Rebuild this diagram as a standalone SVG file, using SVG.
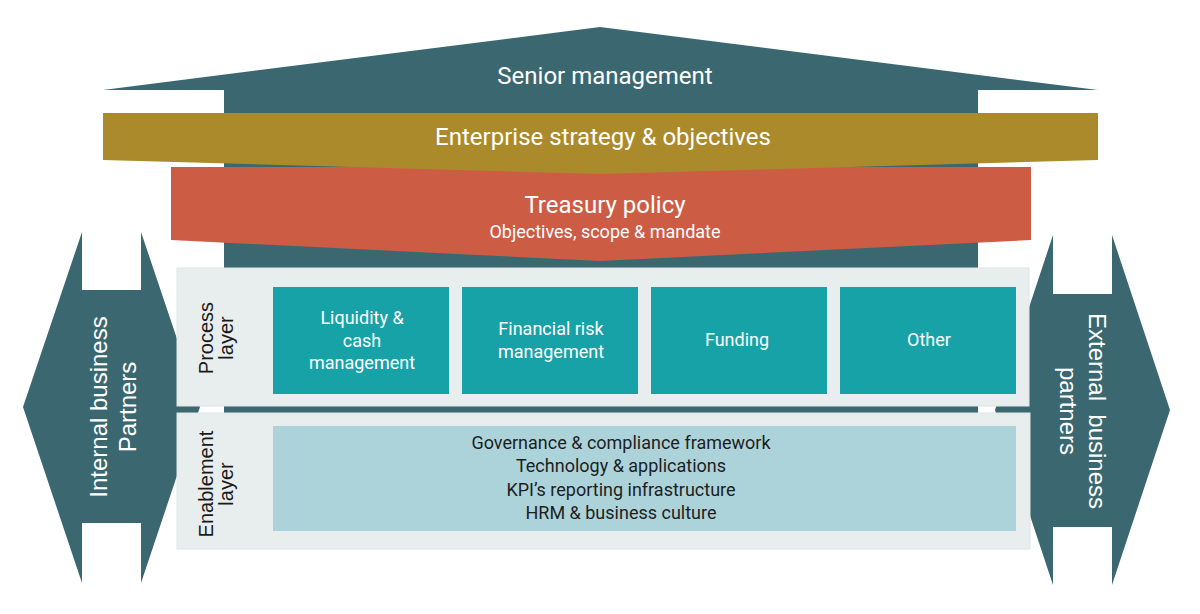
<svg xmlns="http://www.w3.org/2000/svg" width="1200" height="614" viewBox="0 0 1200 614">
<style>
.dark{fill:#3b6870}
.layer{fill:#e8eded;stroke:#dfe5e5;stroke-width:1}
.proc{fill:#17a2a8}
.en{fill:#acd3da}
.w{font-family:Roboto,"Liberation Sans",sans-serif;fill:#ffffff;text-anchor:middle}
.big{font-size:24px}
.pt{font-size:18px}
.et{font-family:Roboto,"Liberation Sans",sans-serif;fill:#1e1e1e;font-size:18px;text-anchor:middle}
.side{font-family:"Liberation Sans",Arial,sans-serif;fill:#ffffff;font-size:24px;text-anchor:middle}
.lab{font-family:"Liberation Sans",Arial,sans-serif;fill:#1a1a1a;font-size:20px;text-anchor:middle}
</style>
<rect width="1200" height="614" fill="#ffffff"/>
<g id="internal-partners">
<polygon class="dark" points="82,232 82,290 141,290 141,232 200,407 141,583 141,523 82,523 82,583 23,407"/>
<text class="side" transform="translate(107,407) rotate(-90)">Internal business</text>
<text class="side" transform="translate(136,407) rotate(-90)">Partners</text>
</g>
<g id="external-partners">
<polygon class="dark" points="1053,235 1053,294 1112,294 1112,235 1170,410 1112,585 1112,527 1053,527 1053,585 995,410"/>
<text class="side" transform="translate(1089,411) rotate(90)" xml:space="preserve">External  business</text>
<text class="side" transform="translate(1060,411) rotate(90)">partners</text>
</g>
<g id="senior-management">
<polygon class="dark" points="103,90 600,27 1098,90 978,90 978,413 224,413 224,90"/>
<text class="w big" x="605" y="84">Senior management</text>
</g>
<g id="treasury-policy">
<polygon fill="#cd5c45" points="171,167 1031,167 1031,240 600,261 171,240"/>
<text class="w big" x="605" y="213">Treasury policy</text>
<text class="w" x="605" y="238" font-size="18">Objectives, scope &amp; mandate</text>
</g>
<g id="enterprise-strategy">
<polygon fill="#ab8a2b" points="103,113 1098,113 1098,160 600,174 103,160"/>
<text class="w big" x="603" y="145">Enterprise strategy &amp; objectives</text>
</g>
<g id="process-layer">
<rect class="layer" x="177" y="268" width="852" height="138"/>
<text class="lab" transform="translate(213,338) rotate(-90)">Process</text>
<text class="lab" transform="translate(233,338) rotate(-90)">layer</text>
</g>
<g id="liquidity">
<rect class="proc" x="273" y="287" width="176" height="107"/>
<text class="w pt" x="362" y="324">Liquidity &amp;</text>
<text class="w pt" x="362" y="347">cash</text>
<text class="w pt" x="362" y="369">management</text>
</g>
<g id="financial-risk">
<rect class="proc" x="462" y="287" width="176" height="107"/>
<text class="w pt" x="551" y="335">Financial risk</text>
<text class="w pt" x="551" y="358">management</text>
</g>
<g id="funding">
<rect class="proc" x="651" y="287" width="176" height="107"/>
<text class="w pt" x="737" y="346">Funding</text>
</g>
<g id="other">
<rect class="proc" x="840" y="287" width="176" height="107"/>
<text class="w pt" x="929" y="346">Other</text>
</g>
<g id="enablement-layer">
<rect class="layer" x="177" y="413" width="853" height="136"/>
<text class="lab" transform="translate(213,484) rotate(-90)">Enablement</text>
<text class="lab" transform="translate(233,484) rotate(-90)">layer</text>
</g>
<g id="enablement-box">
<rect class="en" x="273" y="426" width="743" height="105"/>
<text class="et" x="621" y="449">Governance &amp; compliance framework</text>
<text class="et" x="621" y="472">Technology &amp; applications</text>
<text class="et" x="621" y="496">KPI’s reporting infrastructure</text>
<text class="et" x="621" y="519">HRM &amp; business culture</text>
</g>
<g id="connectors"></g>
</svg>
